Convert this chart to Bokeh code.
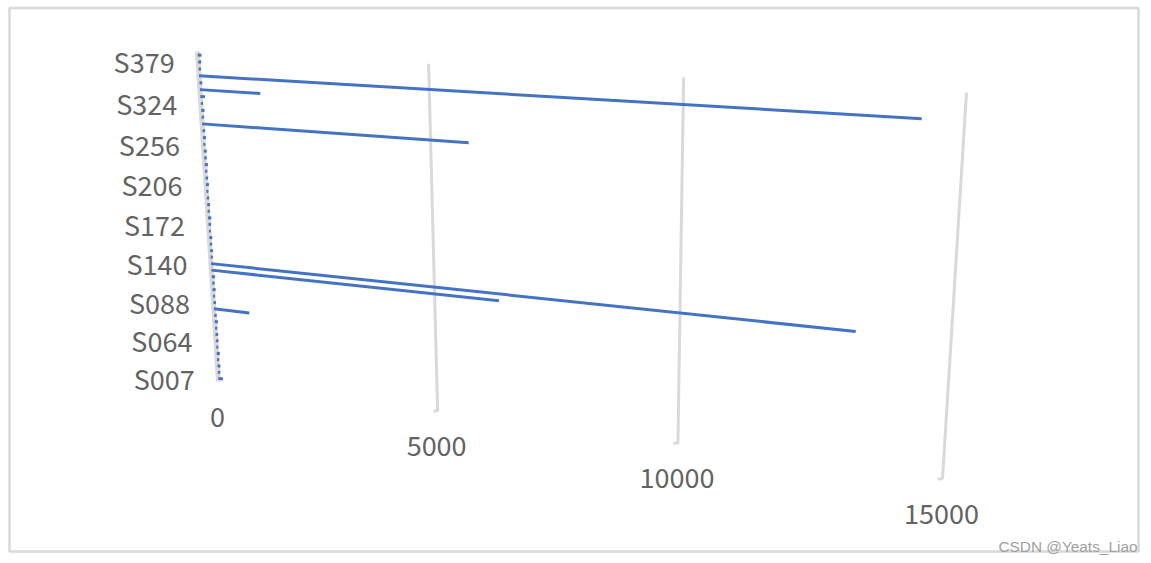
import numpy as np
from bokeh.plotting import figure
from bokeh.models import Range1d
from bokeh.core.properties import value
from bokeh.embed import file_html
from bokeh.resources import INLINE

# One value per row, bottom row (S007) first; every 6th row carries a label.
row_values = [110, 55, 70, 50, 75, 45, 60, 65, 50, 75, 55, 830,
              60, 45, 70, 55, 75, 6360, 13300, 50, 65, 55, 70, 45,
              60, 75, 50, 65, 55, 45, 70, 60, 50, 75, 55, 65,
              45, 70, 60, 5790, 55, 75, 50, 105, 1360, 65, 14270, 55,
              70, 85]
tick_labels = ["S007", "S064", "S088", "S140", "S172", "S206", "S256", "S324", "S379"]
tick_every = 6
value_ticks = [0, 5000, 10000, 15000]
value_max = 15000
watermark = "CSDN @Yeats_Liao"

BLUE = "#4472C4"
GRID = "#D9D9D9"
TEXT = "#636363"
FONT = "Noto Sans CJK SC"

# Perspective of the tilted plot plane, page pixels of its four corners
src = [(0, 0), (1, 0), (1, 1), (0, 1)]
dst = [(197, 51), (966, 92), (942, 478), (218, 381)]
A, b = [], []
for (u, t), (X, Y) in zip(src, dst):
    A.append([u, t, 1, 0, 0, 0, -u * X, -t * X]); b.append(X)
    A.append([0, 0, 0, u, t, 1, -u * Y, -t * Y]); b.append(Y)
H = np.append(np.linalg.solve(np.array(A, float), np.array(b, float)), 1).reshape(3, 3)


def project_t(v, t):
    u = v / value_max
    u = u + 0.022 * u * (1 - u)
    q = H @ np.array([u, t, 1.0])
    return q[0] / q[2], q[1] / q[2]


def project(v, row):
    """value, row position (0 = bottom row) -> page pixel."""
    n = len(row_values)
    return project_t(v, (n - 1 - row + 0.5) / n)


p = figure(width=1151, height=563, output_backend="svg", toolbar_location=None,
           x_range=Range1d(0, 1151), y_range=Range1d(563, 0), min_border=0,
           x_axis_location=None, y_axis_location=None, outline_line_color=None,
           background_fill_color="white", border_fill_color="white")
p.grid.visible = False

# chart frame
p.quad(left=[9], right=[1138], top=[7.5], bottom=[551], fill_color=None,
       line_color=GRID, line_width=2.5)

# grid lines, with the small foot at the bottom of each
for tick in value_ticks:
    xa, ya = project_t(tick, 0)
    xb, yb = project_t(tick, 1)
    xs, ys = [xa, xb], [ya, yb]
    if tick > 0:
        xf, yf = project_t(tick - 90, 1.003)
        xs.append(xf); ys.append(yf)
    p.line(xs, ys, line_color=GRID, line_width=5 if tick == 0 else 3)

# bars
bx0, by0, bx1, by1 = [], [], [], []
for i, v in enumerate(row_values):
    x0, y0 = project(0, i)
    x1, y1 = project(v, i)
    bx0.append(x0); by0.append(y0); bx1.append(x1); by1.append(y1)
p.segment(bx0, by0, bx1, by1, line_color=BLUE, line_width=3)

# category labels
for k, lab in enumerate(tick_labels):
    x, y = project(0, k * tick_every)
    p.text([x - 23.5], [y], text=[lab], text_align="right", text_baseline="middle",
           text_font=value(FONT), text_font_size="27px", text_color=TEXT)

# value labels
for tick in value_ticks:
    x, y = project_t(tick, 1)
    p.text([x - 1], [y + 35], text=[str(tick)], text_align="center", text_baseline="middle",
           text_font=value(FONT), text_font_size="27px", text_color=TEXT)

# watermark
p.text([1137], [546], text=[watermark], text_align="right", text_baseline="middle",
       text_font=value("Liberation Sans"), text_font_size="15.4px", text_color="#A0A0A0")

open("out.html", "w").write(file_html(p, INLINE))
